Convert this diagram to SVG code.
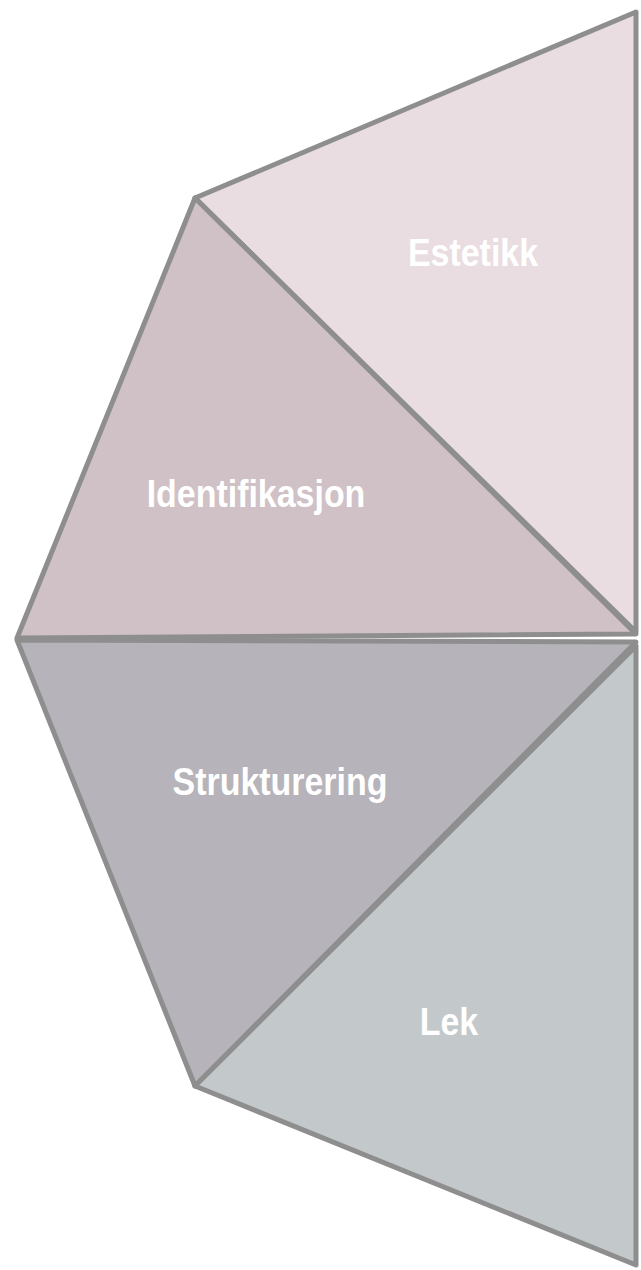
<svg xmlns="http://www.w3.org/2000/svg" width="641" height="1270" viewBox="0 0 641 1270">
<style>
.tri{stroke:#8e8e8e;stroke-width:5;stroke-linejoin:round}
.lbl{font-family:"Liberation Sans",Arial,sans-serif;font-weight:bold;font-size:39px;fill:#ffffff;text-anchor:middle}
</style>
<rect width="641" height="1270" fill="#ffffff"/>
<g id="estetikk">
<polygon class="tri" points="636,12 195,198 636,632" fill="#e9dde1"/>
<text class="lbl" x="473" y="266" transform="translate(473 0) scale(0.87 1) translate(-473 0)">Estetikk</text>
</g>
<g id="identifikasjon">
<polygon class="tri" points="195,198 17,638 636,634" fill="#cfc1c5"/>
<text class="lbl" x="256" y="507" transform="translate(256 0) scale(0.87 1) translate(-256 0)">Identifikasjon</text>
</g>
<g id="strukturering">
<polygon class="tri" points="17,640 636,642 195,1086" fill="#b6b4ba"/>
<text class="lbl" x="280" y="795" transform="translate(280 0) scale(0.87 1) translate(-280 0)">Strukturering</text>
</g>
<g id="lek">
<polygon class="tri" points="636,646 195,1086 636,1265" fill="#c3c9cb"/>
<text class="lbl" x="449" y="1035" transform="translate(449 0) scale(0.87 1) translate(-449 0)">Lek</text>
</g>
<g id="connectors"></g>
</svg>
